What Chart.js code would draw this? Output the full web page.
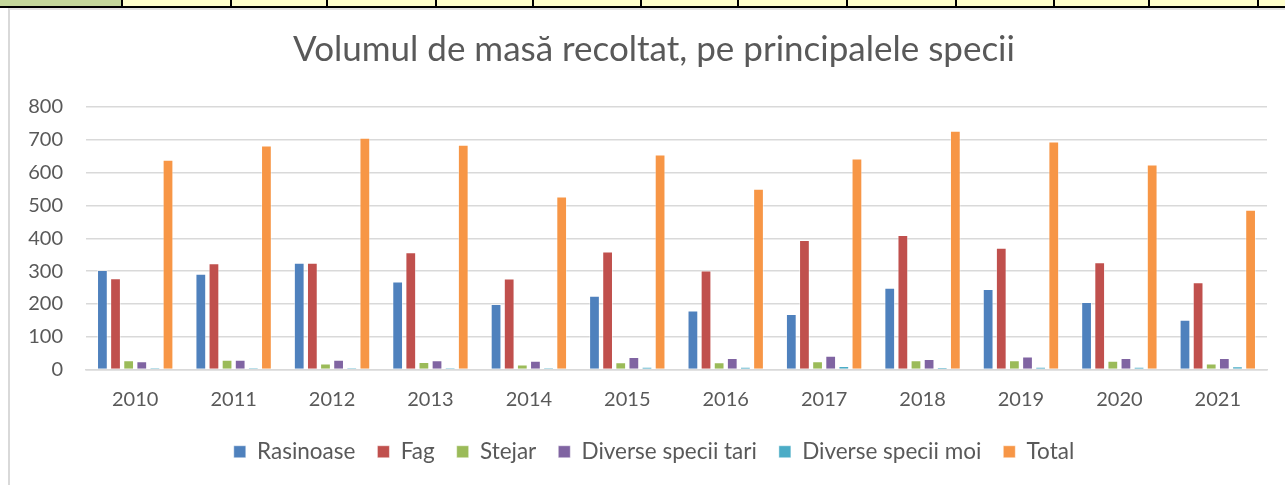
<!DOCTYPE html>
<html lang="ro">
<head>
    <meta charset="UTF-8">
    <title>Volumul de masă recoltat</title>
    <script src="https://cdn.jsdelivr.net/npm/chart.js"></script>
    <style>
        body { margin: 0; background: #fff; width: 1285px; height: 485px; overflow: hidden; position: relative; }
        #strip { position: absolute; left: 0; top: 0; width: 1285px; height: 6px; background: #ffffcc; border-bottom: 2px solid #000; }
        #strip div { position: absolute; top: 0; height: 6px; width: 2px; background: #000; }
        #frame { position: absolute; left: 8px; top: 8px; width: 1277px; height: 477px; border-left: 2px solid #d9d9d9; border-top: 2px solid #e3e3e3; background: #fff; }
        #wrap { position: absolute; left: 10px; top: 10px; width: 1275px; height: 475px; }
    </style>
</head>
<body>
    <div id="strip"></div>
    <div id="frame"></div>
    <div id="wrap"><canvas id="chart" width="1275" height="475"></canvas></div>

    <script>
        // spreadsheet cells above the chart
        var cellLines = [121, 230, 326, 435, 532, 640, 737, 846, 955, 1053, 1148, 1257];
        var strip = document.getElementById('strip');
        var first = document.createElement('span');
        first.style.cssText = 'position:absolute;left:0;top:0;width:121px;height:6px;background:#c4d79b;';
        strip.appendChild(first);
        cellLines.forEach(function (x) {
            var d = document.createElement('div');
            d.style.left = x + 'px';
            strip.appendChild(d);
        });

        var years = ['2010', '2011', '2012', '2013', '2014', '2015', '2016', '2017', '2018', '2019', '2020', '2021'];
        var rasinoase = [303, 292, 325, 268, 200, 225, 180, 169, 249, 245, 206, 152];
        var fag = [278, 324, 325, 357, 277, 360, 302, 395, 410, 371, 327, 266];
        var stejar = [28, 30, 18, 23, 15, 22, 22, 25, 28, 28, 27, 18];
        var speciiTari = [25, 30, 30, 28, 27, 38, 35, 42, 32, 40, 35, 35];
        var speciiMoi = [5, 5, 6, 6, 5, 8, 8, 11, 7, 8, 8, 10];
        var total = [639, 683, 706, 685, 527, 655, 551, 643, 728, 695, 625, 487];

        var font = 'Lato';
        var textColor = '#595959';

        function ds(label, data, color) {
            return {
                label: label,
                data: data,
                backgroundColor: color,
                borderColor: 'rgba(255,255,255,0.45)',
                borderWidth: 1,
                categoryPercentage: 0.8,
                barPercentage: 0.82
            };
        }

        var ctx = document.getElementById('chart').getContext('2d');
        var chart = new Chart(ctx, {
            type: 'bar',
            data: {
                labels: years,
                datasets: [
                    ds('Rasinoase', rasinoase, '#4f81bd'),
                    ds('Fag', fag, '#c0504d'),
                    ds('Stejar', stejar, '#9bbb59'),
                    ds('Diverse specii tari', speciiTari, '#8064a2'),
                    ds('Diverse specii moi', speciiMoi, '#4bacc6'),
                    ds('Total', total, '#f79646')
                ]
            },
            options: {
                responsive: false,
                animation: false,
                layout: { padding: { left: 17, right: 4, top: 0, bottom: 12 } },
                plugins: {
                    title: {
                        display: true,
                        text: 'Volumul de masă recoltat, pe principalele specii',
                        color: textColor,
                        font: { family: font, size: 35, weight: 'normal' },
                        padding: { top: 19, bottom: 36 }
                    },
                    legend: {
                        position: 'bottom',
                        labels: {
                            color: textColor,
                            font: { family: font, size: 22.5 },
                            boxWidth: 12,
                            boxHeight: 12,
                            padding: 22
                        }
                    },
                    tooltip: { enabled: false }
                },
                scales: {
                    x: {
                        grid: { display: false, drawTicks: false },
                        border: { display: true, color: '#d9d9d9', width: 1.5 },
                        ticks: { color: textColor, font: { family: font, size: 20 }, padding: 18 },
                        afterFit: function (scale) { scale.height = 49; }
                    },
                    y: {
                        min: 0,
                        max: 800,
                        ticks: { stepSize: 100, color: textColor, font: { family: font, size: 20 }, padding: 23 },
                        grid: { color: '#d9d9d9', lineWidth: 1.5, drawTicks: false },
                        border: { display: false },
                        afterFit: function (scale) { scale.width = 59; }
                    },
                    // empty space on the right, as in the original chart
                    yRight: {
                        position: 'right',
                        grid: { display: false, drawTicks: false },
                        ticks: { display: false },
                        border: { display: false },
                        afterFit: function (scale) { scale.width = 14; }
                    }
                }
            }
        });
    </script>
</body>
</html>
